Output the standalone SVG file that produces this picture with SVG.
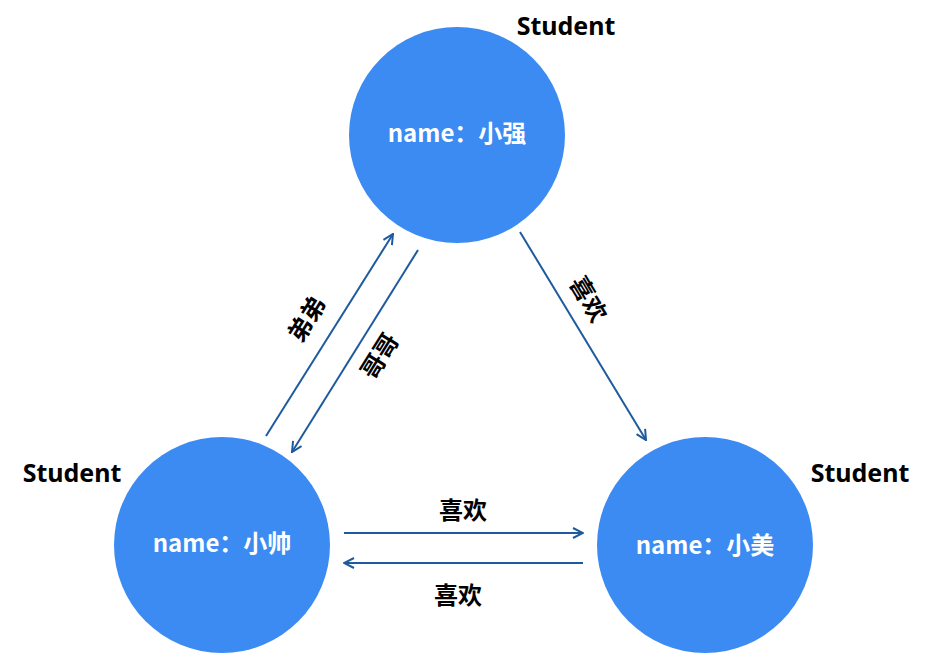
<svg xmlns="http://www.w3.org/2000/svg" width="952" height="659" viewBox="0 0 952 659">
<style>
.n{fill:#3B8BF3}
.t{font-family:"Noto Sans CJK SC","Noto Sans",sans-serif;font-weight:bold;font-size:24px;fill:#fff;text-anchor:middle;dominant-baseline:central}
.s{font-family:"Noto Sans","Liberation Sans",sans-serif;font-weight:bold;font-size:25px;fill:#000;text-anchor:middle;dominant-baseline:central}
.e{stroke:#1E5B9E;stroke-width:2;fill:none;marker-end:url(#a)}
.l{font-family:"Noto Sans CJK SC",sans-serif;font-weight:bold;font-size:24px;fill:#000;text-anchor:middle;dominant-baseline:central}
</style>
<defs><marker id="a" viewBox="0 0 12 12" refX="11" refY="6" markerWidth="12" markerHeight="12" markerUnits="userSpaceOnUse" orient="auto"><path d="M1,1 L11,6 L1,11" fill="none" stroke="#1E5B9E" stroke-width="2"/></marker></defs>
<rect width="952" height="659" fill="#fff"/>
<g id="n1"><circle class="n" cx="457" cy="135" r="108"/><text class="t" x="457" y="131">name：小强</text><text class="s" x="566" y="25">Student</text></g>
<g id="n2"><circle class="n" cx="222" cy="545" r="108"/><text class="t" x="222" y="541">name：小帅</text><text class="s" x="72" y="472">Student</text></g>
<g id="n3"><circle class="n" cx="705" cy="545" r="108"/><text class="t" x="705" y="543">name：小美</text><text class="s" x="860" y="472">Student</text></g>
<g id="edges">
<line class="e" x1="266" y1="436" x2="393" y2="234"/>
<line class="e" x1="418" y1="250" x2="292" y2="452"/>
<line class="e" x1="520" y1="232" x2="646" y2="440"/>
<line class="e" x1="344" y1="533" x2="583" y2="533"/>
<line class="e" x1="583" y1="563" x2="344" y2="563"/>
<text class="l" transform="translate(305,318) rotate(-58)">弟弟</text>
<text class="l" transform="translate(378,355) rotate(-58)">哥哥</text>
<text class="l" transform="translate(590,298) rotate(59)">喜欢</text>
<text class="l" x="463" y="508">喜欢</text>
<text class="l" x="458" y="593">喜欢</text>
</g>
</svg>
